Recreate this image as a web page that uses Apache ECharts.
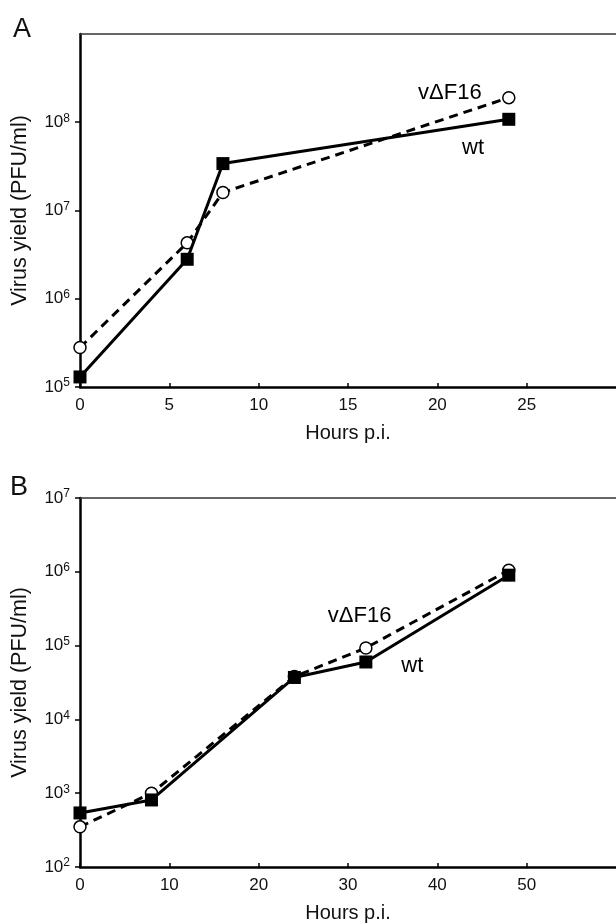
<!DOCTYPE html>
<html>
<head>
<meta charset="utf-8">
<script src="https://cdn.jsdelivr.net/npm/echarts@6/dist/echarts.min.js"></script>
<style>html,body{margin:0;padding:0;background:#fff}#c{width:616px;height:924px}</style>
</head>
<body>
<div id="c"></div>
<script>
// Panel A data
const hoursA = [0, 6, 8, 24];
const wtA = [1.3e5, 2.8e6, 3.4e7, 1.08e8];
const dF16A = [2.8e5, 4.3e6, 1.6e7, 1.9e8];
// Panel B data
const hoursB = [0, 8, 24, 32, 48];
const wtB = [540, 810, 3.7e4, 6.0e4, 9.0e5];
const dF16B = [350, 1000, 3.8e4, 9.3e4, 1.05e6];
// Axis settings / tick labels
const xTicksA = [0, 5, 10, 15, 20, 25];
const xTicksB = [0, 10, 20, 30, 40, 50];
const labelWt = 'wt';
const labelMut = 'v\u0394F16';
const yName = 'Virus yield (PFU/ml)';
const xName = 'Hours p.i.';
// annotation anchors (data coordinates)
const annA = {mut: [20.7, 2.13e8], wt: [22, 5.1e7]};
const annB = {mut: [31.3, 2.5e5], wt: [37.2, 5.3e4]};

const FONT = 'Liberation Sans, Arial, Helvetica, sans-serif';
const chart = echarts.init(document.getElementById('c'), null, {renderer: 'canvas'});

function pairs(xs, ys) { return xs.map((x, i) => [x, ys[i]]); }
function yFmt(v) {
  const e = Math.round(Math.log10(v));
  return '{b|10}{s|' + e + '}';
}
const yRich = {
  b: {fontSize: 17, fontFamily: FONT, color: '#111', lineHeight: 20},
  s: {fontSize: 12, fontFamily: FONT, color: '#111', lineHeight: 20, verticalAlign: 'top', padding: [0, 0, 6, 0]}
};

function xAxisMain(grid, max, interval, ticks) {
  return {
    type: 'value', gridIndex: grid, min: 0, max: max, interval: interval,
    name: xName, nameLocation: 'middle', nameGap: 36,
    nameTextStyle: {fontSize: 20, fontFamily: FONT, color: '#111'},
    axisLine: {show: true, onZero: false, lineStyle: {color: '#000', width: 2.5}},
    axisTick: {show: true, inside: true, length: 4, lineStyle: {color: '#000', width: 1.5}},
    axisLabel: {fontSize: 17, fontFamily: FONT, color: '#111', margin: 10, showMaxLabel: false,
      formatter: v => ticks.indexOf(v) >= 0 ? String(v) : ''},
    splitLine: {show: false}
  };
}
function xAxisTop(grid, max) {
  return {
    type: 'value', gridIndex: grid, position: 'top', min: 0, max: max,
    axisLine: {show: true, onZero: false, lineStyle: {color: '#333', width: 1.5}},
    axisTick: {show: false}, axisLabel: {show: false}, splitLine: {show: false}
  };
}
function yAxis(grid, min, max, showMax) {
  return {
    type: 'log', logBase: 10, gridIndex: grid, min: min, max: max, interval: 1,
    name: yName, nameLocation: 'middle', nameGap: 49,
    nameTextStyle: {fontSize: 21.5, fontFamily: FONT, color: '#111'},
    axisLine: {show: true, onZero: false, lineStyle: {color: '#000', width: 2.5}},
    axisTick: {show: true, inside: false, length: 5, lineStyle: {color: '#000', width: 1.5}},
    axisLabel: {formatter: yFmt, rich: yRich, margin: 10, showMaxLabel: showMax},
    splitLine: {show: false}
  };
}
function mutSeries(xi, yi, data) {
  return {
    type: 'line', xAxisIndex: xi, yAxisIndex: yi, data: data, z: 2,
    symbol: 'circle', symbolSize: 12,
    itemStyle: {color: '#fff', borderColor: '#000', borderWidth: 1.5},
    lineStyle: {color: '#000', width: 3, type: [9, 6]}
  };
}
function wtSeries(xi, yi, data) {
  return {
    type: 'line', xAxisIndex: xi, yAxisIndex: yi, data: data, z: 3,
    symbol: 'rect', symbolSize: 13,
    itemStyle: {color: '#000'},
    lineStyle: {color: '#000', width: 3}
  };
}
function annotSeries(xi, yi, ann) {
  return {
    type: 'scatter', xAxisIndex: xi, yAxisIndex: yi, z: 5, silent: true,
    symbol: 'circle', symbolSize: 0, itemStyle: {color: '#000', opacity: 1},
    data: [
      {value: ann.mut, label: {formatter: labelMut}},
      {value: ann.wt, label: {formatter: labelWt}}
    ],
    label: {show: true, position: 'inside', fontSize: 22, fontFamily: FONT, color: '#000', opacity: 1}
  };
}

chart.setOption({
  backgroundColor: '#fff',
  animation: false,
  title: [
    {text: 'A', left: 8, top: 11, textStyle: {fontSize: 27, fontWeight: 'normal', fontFamily: FONT, color: '#111'}},
    {text: 'B', left: 5, top: 469, textStyle: {fontSize: 27, fontWeight: 'normal', fontFamily: FONT, color: '#111'}}
  ],
  grid: [
    {left: 80, top: 34, width: 539, height: 353},
    {left: 80, top: 498, width: 539, height: 369}
  ],
  xAxis: [
    xAxisMain(0, 30, 5, xTicksA),
    xAxisMain(1, 60, 10, xTicksB),
    xAxisTop(0, 30),
    xAxisTop(1, 60)
  ],
  yAxis: [
    yAxis(0, 1e5, 1e9, false),
    yAxis(1, 1e2, 1e7, true)
  ],
  series: [
    mutSeries(0, 0, pairs(hoursA, dF16A)),
    wtSeries(0, 0, pairs(hoursA, wtA)),
    mutSeries(1, 1, pairs(hoursB, dF16B)),
    wtSeries(1, 1, pairs(hoursB, wtB)),
    annotSeries(0, 0, annA),
    annotSeries(1, 1, annB)
  ]
});
</script>
</body>
</html>
